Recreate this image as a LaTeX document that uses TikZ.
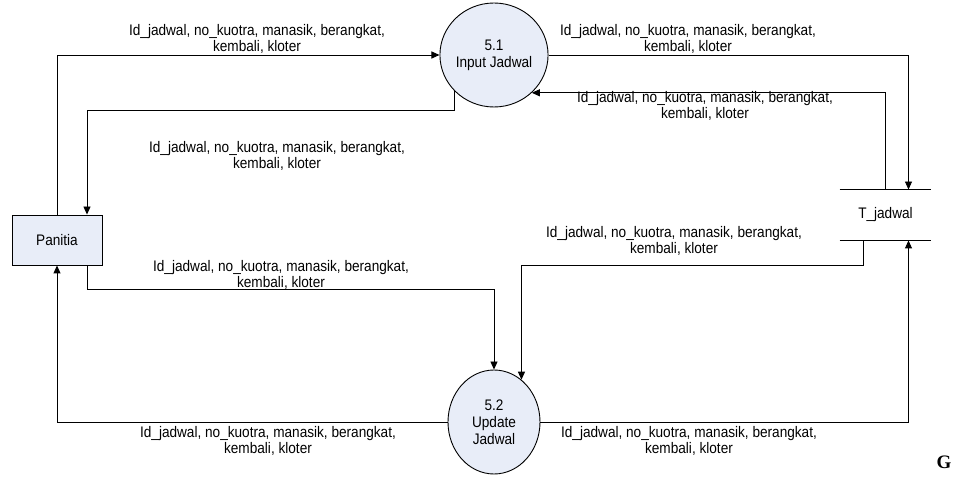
\documentclass[tikz,border=0pt]{standalone}
\usepackage{fontspec}
\setmainfont[FakeStretch = 0.89]{Liberation Sans}
\newfontfamily\serifG{Liberation Serif}
\usetikzlibrary{arrows.meta}
\usetikzlibrary{shapes.geometric}
\usetikzlibrary{positioning}
\definecolor{procfill}{RGB}{232,237,248}
\tikzset{proc/.style = {draw, ellipse, fill = procfill, minimum width = 92, minimum height = 104, inner sep = 0, align = center}}
\tikzset{ent/.style = {draw, fill = procfill, minimum width = 90, minimum height = 50}}
\tikzset{flow/.style = {-{Triangle[length = 8pt, width = 7pt]}}}
\tikzset{lbl/.style = {align = center, inner sep = 0}}

\begin{document}
\begin{tikzpicture}[x = 1pt, y = -1pt, line width = 0.9pt, font = \fontsize{15.3}{16.8}\selectfont]
    \useasboundingbox (0, 0) rectangle (954, 478);

    \node [proc] (inp) at (494, 55) {5.1\\Input Jadwal};
    \node [proc] (upd) at (494, 422) {5.2\\Update\\Jadwal};
    \node [ent] (pan) at (57, 240) {Panitia};
    \node [minimum width = 91, minimum height = 50] (tjad) at (885.5, 215) {T\_jadwal};
    \draw (tjad.north west) -- (tjad.north east);
    \draw (tjad.south west) -- (tjad.south east);

    \draw [flow] (pan.north) |- (inp.west);
    \draw [flow] (inp.-137) -- ++(0, 19) -| ([xshift = 30]pan.north);
    \draw [flow] (inp.east) -| ([xshift = 23]tjad.north);
    \draw [flow] (tjad.north) |- (inp.-45);
    \draw [flow] ([xshift = -22]tjad.south) -- ++(0, 25) -| (upd.57);
    \draw [flow] ([xshift = 30]pan.south) -- ++(0, 24) -| (upd.north);
    \draw [flow] (upd.west) -| (pan.south);
    \draw [flow] (upd.east) -| ([xshift = 23]tjad.south);

    \node [lbl] (l1) at (257, 39) {Id\_jadwal, no\_kuotra, manasik, berangkat,\\kembali, kloter};
    \node [lbl] (l2) at (688, 39) {Id\_jadwal, no\_kuotra, manasik, berangkat,\\kembali, kloter};
    \node [lbl] (l3) at (705, 106) {Id\_jadwal, no\_kuotra, manasik, berangkat,\\kembali, kloter};
    \node [lbl] (l4) at (277, 156) {Id\_jadwal, no\_kuotra, manasik, berangkat,\\kembali, kloter};
    \node [lbl] (l5) at (674, 241) {Id\_jadwal, no\_kuotra, manasik, berangkat,\\kembali, kloter};
    \node [lbl] (l6) at (281, 275) {Id\_jadwal, no\_kuotra, manasik, berangkat,\\kembali, kloter};
    \node [lbl] (l7) at (268, 441) {Id\_jadwal, no\_kuotra, manasik, berangkat,\\kembali, kloter};
    \node [lbl] (l8) at (689, 441) {Id\_jadwal, no\_kuotra, manasik, berangkat,\\kembali, kloter};

    \node [font = \serifG\bfseries\fontsize{19}{19}\selectfont] (g) at (944, 462) {G};
\end{tikzpicture}
\end{document}
